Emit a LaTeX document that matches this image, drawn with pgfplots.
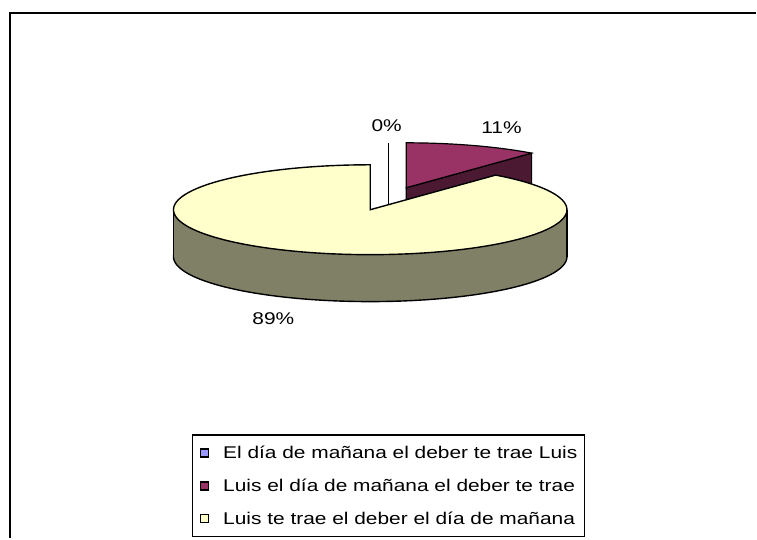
\documentclass[border=0pt]{standalone}
\usepackage{pgfplots}
\pgfplotsset{compat=1.18}
\usepackage{fontspec}
\setmainfont{Liberation Sans}[FakeStretch=1.23]
\definecolor{ytop}{HTML}{FFFFCC}
\definecolor{yside}{HTML}{808066}
\definecolor{mtop}{HTML}{993366}
\definecolor{mside}{HTML}{4C1933}
\definecolor{bluec}{HTML}{9999FF}
% values of the three slices (percent)
\def\vA{0}
\def\vB{11}
\def\vC{89}
\pgfmathsetmacro\aB{360*\vB/(\vA+\vB+\vC)}
\begin{document}%
\begin{tikzpicture}[font=\fontsize{17bp}{20bp}\selectfont]
\begin{axis}[
  width=757bp, height=539bp, scale only axis,
  xmin=0, xmax=757, ymin=0, ymax=539, y dir=reverse,
  hide axis, clip=false,
  legend cell align=left,
  legend image code/.code={\draw[#1, line width=1.1bp] (0bp,-4bp) rectangle (8bp,4bp);},
  legend style={at={(axis cs:192.3,435)}, anchor=north west, draw=black, line width=1.2bp,
    inner xsep=7.5bp, inner ysep=10bp, row sep=17bp, /tikz/column sep=14bp,
    nodes={inner sep=0pt, text height=14bp, text depth=2bp, font=\fontsize{17bp}{20bp}\selectfont}},
]
% invisible extent
\addplot[draw=none, forget plot] coordinates {(0,0) (757,539)};
% frame
\addplot[black, line width=2bp, forget plot] coordinates {(10,539) (10,13) (757,13)};
% 0% slice (zero width)
\addplot[black, line width=1.2bp, forget plot] coordinates {(389,143) (389,236)};
% 11% slice: cut face
\addplot[fill=mside, draw=black, line width=1.2bp, forget plot] coordinates {(406.7,188) (532.3,153.3) (532.3,201.3) (406.7,236)} -- cycle;
% 11% slice: top
\addplot[fill=mtop, draw=black, line width=1.2bp, forget plot, domain=0:\aB, samples=40, variable=\t]
  ({406.7+197*sin(t)}, {188-45*cos(t)}) -- (axis cs:406.7,188) -- cycle;
% 89% slice: side
\addplot[fill=yside, draw=black, line width=1.4bp, forget plot, domain=0:360, samples=181, variable=\t]
  ({370.7+197*sin(t)}, {257-45*cos(t)}) -- cycle;
\addplot[fill=yside, draw=none, forget plot] coordinates {(173.7,210) (567.7,210) (567.7,257) (173.7,257)} -- cycle;
\addplot[black, line width=1.4bp, forget plot] coordinates {(173.7,210) (173.7,257)};
\addplot[black, line width=1.4bp, forget plot] coordinates {(567.7,210) (567.7,257)};
% 89% slice: top
\addplot[fill=ytop, draw=black, line width=1.4bp, forget plot, domain=\aB:360, samples=161, variable=\t]
  ({370.7+197*sin(t)}, {210-45*cos(t)}) -- (axis cs:370.7,210) -- cycle;
% labels
\node at (axis cs:387.2,125.5) {0\%};
\node at (axis cs:502.2,128) {11\%};
\node at (axis cs:273.7,318.7) {89\%};
% legend
\addlegendimage{fill=bluec, draw=black}
\addlegendentry{El día de mañana el deber te trae Luis}
\addlegendimage{fill=mtop, draw=black}
\addlegendentry{Luis el día de mañana el deber te trae}
\addlegendimage{fill=ytop, draw=black}
\addlegendentry{Luis te trae el deber el día de mañana}
\end{axis}
\end{tikzpicture}%
\end{document}
